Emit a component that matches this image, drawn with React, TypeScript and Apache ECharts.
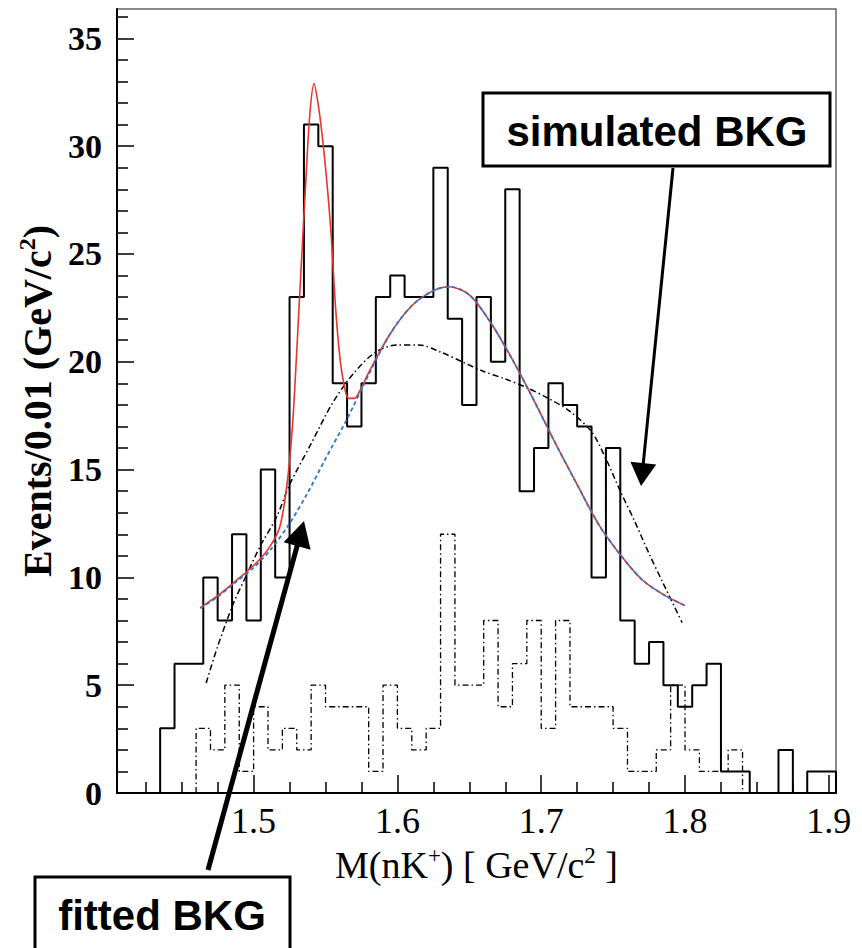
import React, { useEffect, useRef } from 'react';
import * as echarts from 'echarts';

// ---- data ----
const binWidth = 0.01;
// solid histogram: bins starting at 1.435 (centres 1.44 ... 1.90)
const solidBinStart = 1.435;
const solidCounts = [3, 6, 6, 10, 8, 12, 8, 15, 10, 23, 31, 30, 19, 17, 19, 23, 24, 23, 23, 29, 22, 18, 23, 20, 28, 14, 16, 19, 18, 17, 10, 16, 8, 6, 7, 5, 4, 5, 6, 1, 1, 0, 0, 2, 0, 1, 1];
// dashed histogram: bins starting at 1.46
const dashedBinStart = 1.46;
const dashedCounts = [3, 2, 5, 1, 4, 2, 3, 2, 5, 4, 4, 4, 1, 5, 3, 2, 3, 12, 5, 5, 8, 4, 6, 8, 3, 8, 4, 4, 4, 3, 1, 1, 2, 5, 2, 1, 1, 2];

// full fit (red): signal + background
const fitX = [1.463, 1.475, 1.487, 1.5, 1.51, 1.518, 1.523, 1.527, 1.53, 1.533, 1.536, 1.539, 1.542, 1.545, 1.548, 1.551, 1.554, 1.557, 1.56, 1.563, 1.566, 1.57, 1.575, 1.58, 1.595, 1.61, 1.625, 1.636, 1.65, 1.665, 1.68, 1.695, 1.71, 1.725, 1.74, 1.755, 1.77, 1.785, 1.8];
const fitY = [8.6, 9.15, 9.8, 10.55, 11.3, 12.3, 14.2, 17.0, 20.5, 24.3, 28.0, 31.4, 32.9, 31.9, 30.3, 28.3, 25.8, 22.5, 20.2, 18.9, 18.3, 18.3, 18.8, 19.5, 21.3, 22.6, 23.3, 23.48, 23.1, 21.8, 20.1, 18.2, 16.2, 14.3, 12.45, 11.05, 9.9, 9.2, 8.69];

// fitted background (blue dashed)
const bkgX = [1.463, 1.475, 1.487, 1.5, 1.512, 1.525, 1.537, 1.55, 1.565, 1.58, 1.595, 1.61, 1.625, 1.636, 1.65, 1.665, 1.68, 1.695, 1.71, 1.725, 1.74, 1.755, 1.77, 1.785, 1.8];
const bkgY = [8.57, 9.1, 9.75, 10.45, 11.3, 12.5, 13.85, 15.5, 17.35, 19.4, 21.3, 22.6, 23.3, 23.48, 23.1, 21.8, 20.1, 18.2, 16.2, 14.3, 12.45, 11.05, 9.9, 9.2, 8.69];

// simulated background (black dash-dot)
const simX = [1.467, 1.475, 1.486, 1.495, 1.505, 1.516, 1.525, 1.54, 1.555, 1.57, 1.585, 1.6, 1.615, 1.63, 1.645, 1.66, 1.675, 1.69, 1.705, 1.72, 1.735, 1.745, 1.755, 1.765, 1.775, 1.785, 1.798];
const simY = [5.1, 6.8, 8.8, 10.1, 11.5, 12.8, 14.3, 16.2, 18.1, 19.5, 20.45, 20.78, 20.78, 20.45, 20.0, 19.55, 19.2, 18.8, 18.3, 17.7, 16.75, 15.5, 14.0, 12.6, 11.1, 9.7, 7.9];

// axes
const xMin = 1.405;
const xMax = 1.905;
const yMin = 0;
const yMax = 36.36;
const xMajorTicks = [1.5, 1.6, 1.7, 1.8, 1.9];
const xMinorTicks = [1.425, 1.45, 1.475, 1.525, 1.55, 1.575, 1.625, 1.65, 1.675, 1.725, 1.75, 1.775, 1.825, 1.85, 1.875];
const yMajorTicks = [0, 5, 10, 15, 20, 25, 30, 35];
const yMinorTicks = [1, 2, 3, 4, 6, 7, 8, 9, 11, 12, 13, 14, 16, 17, 18, 19, 21, 22, 23, 24, 26, 27, 28, 29, 31, 32, 33, 34, 36];

function histOutline(start: number, width: number, counts: number[]) {
  const pts: number[][] = [[start, 0]];
  counts.forEach((c, i) => {
    const lo = +(start + i * width).toFixed(4);
    const hi = +(start + (i + 1) * width).toFixed(4);
    pts.push([lo, c], [hi, c]);
  });
  pts.push([+(start + counts.length * width).toFixed(4), 0]);
  return pts;
}

function zip(xs: number[], ys: number[]) {
  return xs.map((x, i) => [x, ys[i]]);
}

function arrow(sx: number, sy: number, tx: number, ty: number, len: number, half: number, lw: number) {
  const d = Math.hypot(tx - sx, ty - sy);
  const ux = (tx - sx) / d;
  const uy = (ty - sy) / d;
  const bx = tx - ux * len;
  const by = ty - uy * len;
  const nx = -uy;
  const ny = ux;
  return [
    { type: 'line', z: 100, shape: { x1: sx, y1: sy, x2: bx + ux * 2, y2: by + uy * 2 }, style: { stroke: '#000', lineWidth: lw } },
    { type: 'polygon', z: 100, shape: { points: [[tx, ty], [bx + nx * half, by + ny * half], [bx - nx * half, by - ny * half]] }, style: { fill: '#000' } },
  ];
}

export default function App() {
  const ref = useRef<HTMLDivElement>(null);
  useEffect(() => {
    if (!ref.current) return;
    const chart = echarts.init(ref.current, null, { renderer: 'svg' });
    const serif = 'Liberation Serif';
    const tickLine = { color: '#000', width: 1.5 };
    const option: any = {
      animation: false,
      backgroundColor: '#fff',
      grid: { left: 117, right: 26, top: 9, bottom: 155, show: true, borderColor: '#666', borderWidth: 1.5, backgroundColor: 'transparent' },
      xAxis: [
        {
          type: 'value', min: xMin, max: xMax, position: 'bottom',
          axisLine: { show: true, onZero: false, lineStyle: { color: '#000', width: 2 } },
          axisTick: { show: true, inside: true, length: 18, customValues: xMajorTicks, lineStyle: tickLine },
          axisLabel: { show: true, customValues: xMajorTicks, formatter: (v: number) => v.toFixed(1), color: '#000', fontFamily: serif, fontSize: 36, margin: 10 },
          splitLine: { show: false },
          name: '{n|M(nK}{s|+}{n|) [ GeV/c}{s|2}{n| ]}',
          nameLocation: 'middle', nameGap: 48,
          nameTextStyle: {
            rich: {
              n: { fontFamily: serif, fontSize: 38, color: '#000', lineHeight: 42 },
              s: { fontFamily: serif, fontSize: 23, color: '#000', lineHeight: 42, verticalAlign: 'top' },
            },
          },
        },
        {
          type: 'value', min: xMin, max: xMax, position: 'bottom',
          axisLine: { show: false },
          axisTick: { show: true, inside: true, length: 11, customValues: xMinorTicks, lineStyle: tickLine },
          axisLabel: { show: false },
          splitLine: { show: false },
        },
      ],
      yAxis: [
        {
          type: 'value', min: yMin, max: yMax, position: 'left',
          axisLine: { show: true, onZero: false, lineStyle: { color: '#000', width: 2 } },
          axisTick: { show: true, inside: true, length: 17, customValues: yMajorTicks, lineStyle: tickLine },
          axisLabel: { show: true, customValues: yMajorTicks, color: '#000', fontFamily: serif, fontWeight: 'bold', fontSize: 34, margin: 15 },
          splitLine: { show: false },
          name: '{n|Events/0.01 (GeV/c}{s|2}{n|)}',
          nameLocation: 'middle', nameGap: 47, nameRotate: 90,
          nameTextStyle: {
            rich: {
              n: { fontFamily: serif, fontWeight: 'bold', fontSize: 40, color: '#000', lineHeight: 44 },
              s: { fontFamily: serif, fontWeight: 'bold', fontSize: 24, color: '#000', lineHeight: 44, verticalAlign: 'top' },
            },
          },
        },
        {
          type: 'value', min: yMin, max: yMax, position: 'left',
          axisLine: { show: false },
          axisTick: { show: true, inside: true, length: 11, customValues: yMinorTicks, lineStyle: tickLine },
          axisLabel: { show: false },
          splitLine: { show: false },
        },
      ],
      series: [
        {
          name: 'dashed', type: 'line', xAxisIndex: 0, yAxisIndex: 0, symbol: 'none', z: 2,
          data: histOutline(dashedBinStart, binWidth, dashedCounts),
          lineStyle: { color: '#000', width: 1.3, type: [6, 3, 1.5, 3] },
        },
        {
          name: 'data', type: 'line', xAxisIndex: 0, yAxisIndex: 0, symbol: 'none', z: 3,
          data: histOutline(solidBinStart, binWidth, solidCounts),
          lineStyle: { color: '#000', width: 2 },
        },
        {
          name: 'simulated', type: 'line', xAxisIndex: 0, yAxisIndex: 0, symbol: 'none', smooth: 0.3, z: 4,
          data: zip(simX, simY),
          lineStyle: { color: '#000', width: 1.5, type: [6, 3, 1.5, 3] },
        },
        {
          name: 'fit', type: 'line', xAxisIndex: 0, yAxisIndex: 0, symbol: 'none', smooth: 0.3, z: 5,
          data: zip(fitX, fitY),
          lineStyle: { color: '#e8352c', width: 1.6 },
        },
        {
          name: 'bkg', type: 'line', xAxisIndex: 0, yAxisIndex: 0, symbol: 'none', smooth: 0.3, z: 6,
          data: zip(bkgX, bkgY),
          lineStyle: { color: '#2f74c8', width: 1.8, type: [4, 3] },
        },
      ],
      graphic: [
        { type: 'rect', z: 100, shape: { x: 483, y: 93, width: 347, height: 73 }, style: { fill: '#fff', stroke: '#000', lineWidth: 3 } },
        { type: 'text', z: 101, x: 657, y: 131, style: { text: 'simulated BKG', align: 'center', verticalAlign: 'middle', fontFamily: 'Liberation Sans', fontWeight: 'bold', fontSize: 42, fill: '#000' } },
        ...arrow(673, 168, 641, 486, 23, 13, 3),
        { type: 'rect', z: 100, shape: { x: 35, y: 877, width: 255, height: 90 }, style: { fill: '#fff', stroke: '#000', lineWidth: 3 } },
        { type: 'text', z: 101, x: 162, y: 915, style: { text: 'fitted BKG', align: 'center', verticalAlign: 'middle', fontFamily: 'Liberation Sans', fontWeight: 'bold', fontSize: 42, fill: '#000' } },
        ...arrow(208, 870, 304, 521, 26, 14, 5),
      ],
    };
    chart.setOption(option);
    return () => chart.dispose();
  }, []);
  return <div ref={ref} style={{ position: 'fixed', left: 0, top: 0, width: 862, height: 948, background: '#fff' }} />;
}
